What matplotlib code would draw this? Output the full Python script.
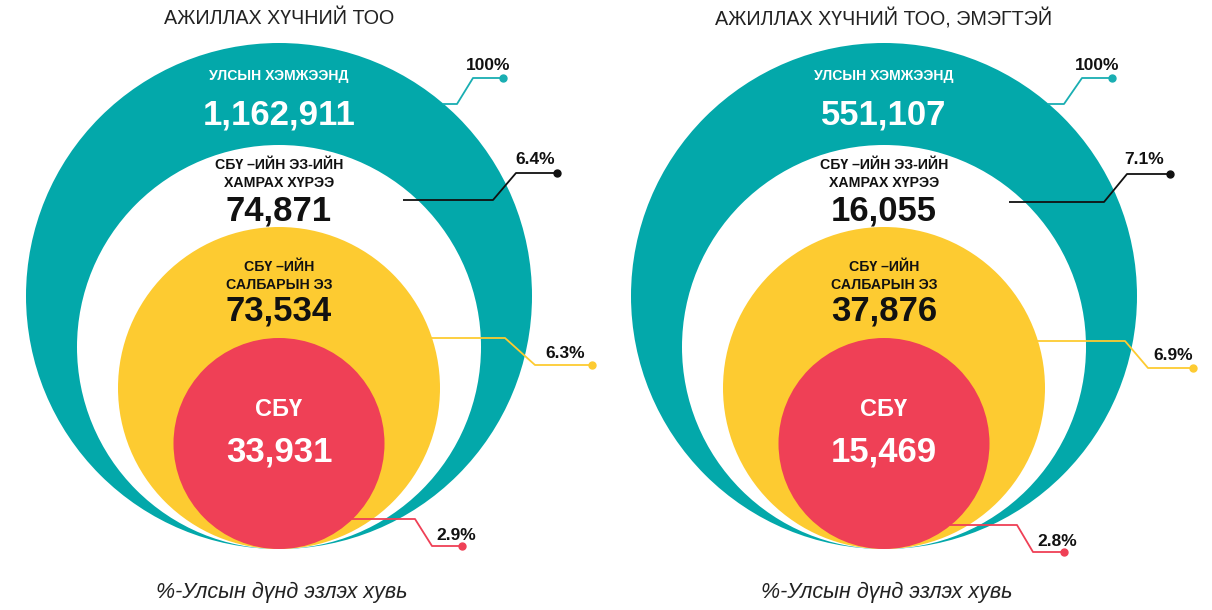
import matplotlib
matplotlib.use("Agg")
import matplotlib.pyplot as plt
from matplotlib.patches import Circle
import numpy as np

plt.rcParams['font.family'] = ['Liberation Sans', 'DejaVu Sans']

# ---------------- data ----------------
panel_titles = ["АЖИЛЛАХ ХҮЧНИЙ ТОО", "АЖИЛЛАХ ХҮЧНИЙ ТОО, ЭМЭГТЭЙ"]
level_labels = ["УЛСЫН ХЭМЖЭЭНД",
                "СБҮ –ИЙН ЭЗ-ИЙН\nХАМРАХ ХҮРЭЭ",
                "СБҮ –ИЙН\nСАЛБАРЫН ЭЗ",
                "СБҮ"]
total_values = [1162911, 74871, 73534, 33931]
female_values = [551107, 16055, 37876, 15469]
total_pct = [100, 6.4, 6.3, 2.9]
female_pct = [100, 7.1, 6.9, 2.8]
footnote = "%-Улсын дүнд эзлэх хувь"

# ---------------- layout / style ----------------
W, H = 1212, 610
panel_cx = [279, 884]
bottom_y = 549
radii = [253, 202, 161, 105.5]
fill_colors = ["#03A8AA", "#FFFFFF", "#FDCB31", "#EF4056"]
leader_colors = ["#19AEB2", "#111111", "#FDCB31", "#EF4056"]
label_colors = ["white", "#111111", "#111111", "white"]

label_y = [76, 174, 276, 410]
value_y = [115, 211, 311, 452]
label_size = [10.1, 10.2, 10.2, 17]
value_size = [25, 25, 25, 25]

# leader geometry per panel: (y_start, start_dx or None(=circle edge), knees, text pos)
leaders = [
    [
        (104, None, [(178, 104), (194, 78), (224, 78)], (209, 65)),
        (200, 124, [(214, 200), (237, 173), (278, 173)], (256, 160)),
        (338, None, [(226, 338), (256, 365), (313, 365)], (286, 353)),
        (519, None, [(136, 519), (153, 546), (183, 546)], (177, 535)),
    ],
    [
        (104, None, [(180, 104), (198, 78), (228, 78)], (213, 65)),
        (202, 125, [(220, 202), (243, 174), (286, 174)], (260, 160)),
        (341, None, [(241, 341), (264, 368), (309, 368)], (289, 355)),
        (525, None, [(133, 525), (149, 552), (180, 552)], (173, 542)),
    ],
]

fig = plt.figure(figsize=(W / 100, H / 100), dpi=100)
ax = fig.add_axes([0, 0, 1, 1])
ax.set_xlim(0, W)
ax.set_ylim(H, 0)
ax.axis("off")

panels_values = [total_values, female_values]
panels_pct = [total_pct, female_pct]

for p, cx in enumerate(panel_cx):
    ax.text(cx, 18.5, panel_titles[p], ha="center", va="center",
            fontsize=14.2, color="#222222")
    for i, r in enumerate(radii):
        cy = bottom_y - r
        ax.add_patch(Circle((cx, cy), r, facecolor=fill_colors[i],
                            edgecolor="none", zorder=1 + i))
    for i, lab in enumerate(level_labels):
        ax.text(cx, label_y[i], lab, ha="center", va="center",
                fontsize=label_size[i], fontweight="bold",
                color=label_colors[i], linespacing=1.4, zorder=10)
        ax.text(cx, value_y[i], f"{panels_values[p][i]:,}", ha="center",
                va="center", fontsize=value_size[i], fontweight="bold",
                color=label_colors[i], zorder=10)
    for i, (ys, sdx, knees, tpos) in enumerate(leaders[p]):
        r = radii[i]
        cy = bottom_y - r
        if sdx is None:
            sdx = np.sqrt(max(r ** 2 - (ys - cy) ** 2, 0)) - 1
        xs = [cx + sdx] + [cx + k[0] for k in knees]
        yv = [ys] + [k[1] for k in knees]
        ax.plot(xs, yv, color=leader_colors[i], lw=1.3, zorder=12,
                solid_capstyle="butt")
        ax.plot([xs[-1]], [yv[-1]], "o", color=leader_colors[i],
                markersize=5, zorder=13)
        ax.text(cx + tpos[0], tpos[1], f"{panels_pct[p][i]:g}%",
                ha="center", va="center", fontsize=12.5, fontweight="bold",
                color="#111111", zorder=13)
    ax.text(cx + 3, 592, footnote, ha="center", va="center", fontsize=15.5,
            fontstyle="italic", color="#222222")

fig.savefig("out.png", dpi=100)
